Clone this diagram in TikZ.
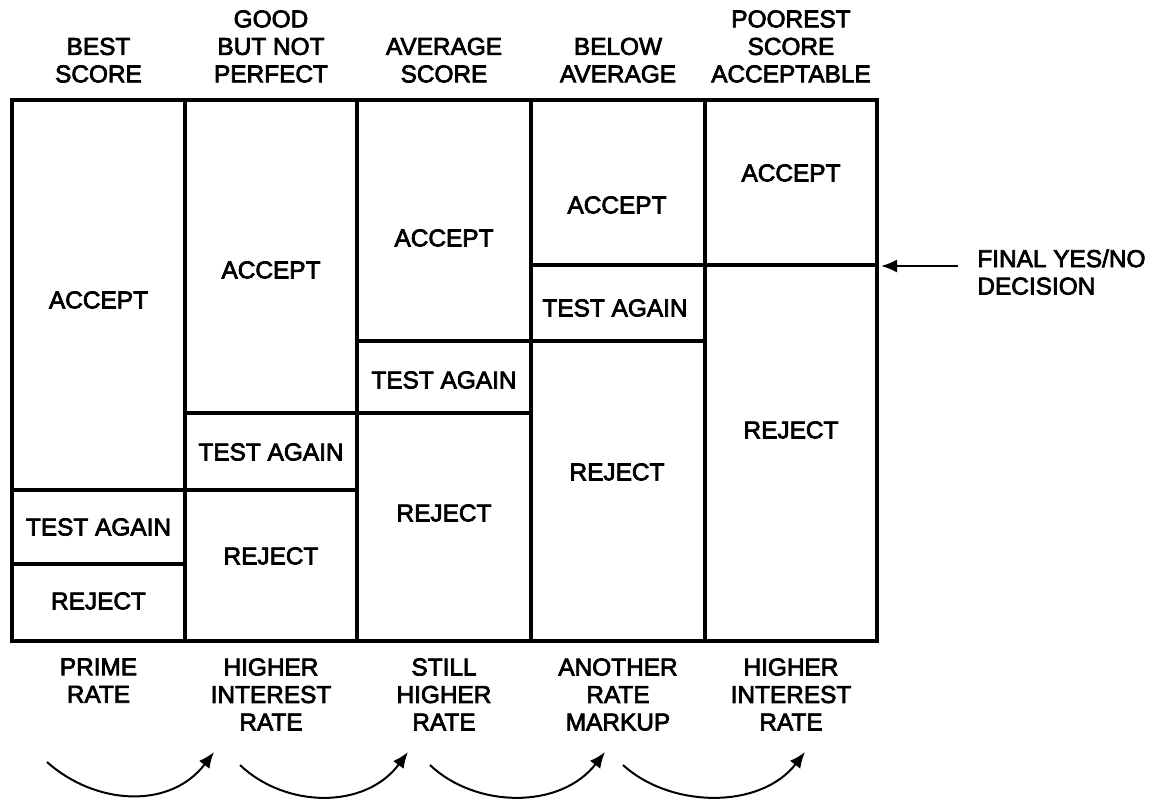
\documentclass[tikz,border=0pt]{standalone}
\usepackage{fontspec}
\setmainfont{Liberation Sans}
\newfontfamily\scanfont{Liberation Sans}[RawFeature={embolden=3}]
\usetikzlibrary{arrows.meta}

\tikzset{
    cell/.style={font=\fontsize{12.2}{13.75}\scanfont, inner sep=0pt, align=center},
    head/.style={cell, anchor=south},
    rate/.style={cell, anchor=north},
    grid/.style={line width=1.6pt},
    curvearrow/.style={line width=1pt, -{Latex[length=8pt,width=6.5pt]}}
}

\begin{document}
\begin{tikzpicture}[x=0.5pt, y=-0.5pt]
    \useasboundingbox (0,0) rectangle (1157,804);

    % Draw the table
    \draw[grid] (12,100) rectangle (877,641);
    \foreach \x in {185,357,531,705}
        \draw[grid] (\x,100) -- (\x,641);
    \draw[grid] (12,490) -- (185,490);
    \draw[grid] (12,564) -- (185,564);
    \draw[grid] (185,413) -- (357,413);
    \draw[grid] (185,490) -- (357,490);
    \draw[grid] (357,341) -- (531,341);
    \draw[grid] (357,413) -- (531,413);
    \draw[grid] (531,265) -- (877,265);
    \draw[grid] (531,341) -- (705,341);

    % Column headings
    \node[head] (head1) at (98.5,83) {BEST\\SCORE};
    \node[head] (head2) at (271,83) {GOOD\\BUT NOT\\PERFECT};
    \node[head] (head3) at (444,83) {AVERAGE\\SCORE};
    \node[head] (head4) at (618,83) {BELOW\\AVERAGE};
    \node[head] (head5) at (791,83) {POOREST\\SCORE\\ACCEPTABLE};

    % Cell texts
    \node[cell] (acc1) at (98.5,300) {ACCEPT};
    \node[cell] (test1) at (98.5,527) {TEST AGAIN};
    \node[cell] (rej1) at (98.5,601) {REJECT};
    \node[cell] (acc2) at (271,270) {ACCEPT};
    \node[cell] (test2) at (271,452) {TEST AGAIN};
    \node[cell] (rej2) at (271,556) {REJECT};
    \node[cell] (acc3) at (444,238) {ACCEPT};
    \node[cell] (test3) at (444,380) {TEST AGAIN};
    \node[cell] (rej3) at (444,513) {REJECT};
    \node[cell] (acc4) at (617,205) {ACCEPT};
    \node[cell] (test4) at (615,308) {TEST AGAIN};
    \node[cell] (rej4) at (617,472) {REJECT};
    \node[cell] (acc5) at (791,173) {ACCEPT};
    \node[cell] (rej5) at (791,430) {REJECT};

    % Decision marker
    \node[cell, anchor=north west, align=left] (decision) at (977,249) {FINAL YES/NO\\DECISION};
    \coordinate (tail) at (958,266);
    \coordinate (tip) at (881,266);
    \draw[curvearrow] (tail) -- (tip);

    % Rates below the table
    \node[rate] (rate1) at (98.5,658) {PRIME\\RATE};
    \node[rate] (rate2) at (271,658) {HIGHER\\INTEREST\\RATE};
    \node[rate] (rate3) at (444,658) {STILL\\HIGHER\\RATE};
    \node[rate] (rate4) at (618,658) {ANOTHER\\RATE\\MARKUP};
    \node[rate] (rate5) at (791,658) {HIGHER\\INTEREST\\RATE};

    % Curved arrows from rate to rate
    \coordinate (s1) at (47,762);   \coordinate (e1) at (214,752);
    \coordinate (s2) at (240,765);  \coordinate (e2) at (408,752);
    \coordinate (s3) at (430,765);  \coordinate (e3) at (605,752);
    \coordinate (s4) at (623,765);  \coordinate (e4) at (805,752);
    \draw[curvearrow] (s1) .. controls (95,805) and (170,810) .. (e1);
    \draw[curvearrow] (s2) .. controls (285,808) and (365,810) .. (e2);
    \draw[curvearrow] (s3) .. controls (475,808) and (560,810) .. (e3);
    \draw[curvearrow] (s4) .. controls (670,808) and (760,810) .. (e4);
\end{tikzpicture}
\end{document}
